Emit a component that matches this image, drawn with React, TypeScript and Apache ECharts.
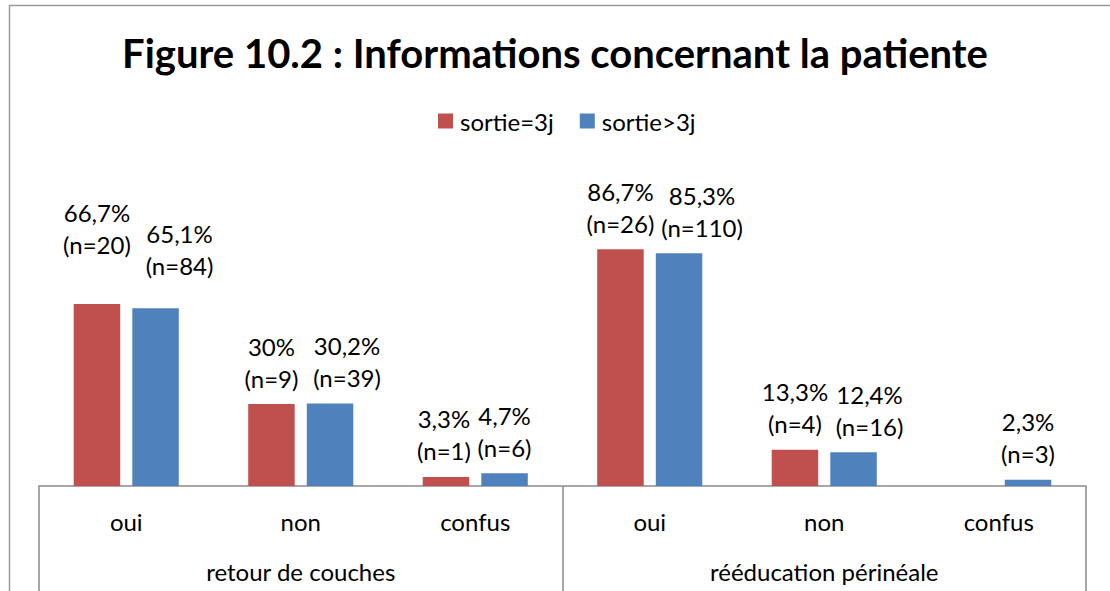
import React, { useEffect, useRef } from "react";
import * as echarts from "echarts";

const groups = ["retour de couches", "rééducation périnéale"];
const answers = ["oui", "non", "confus", "oui", "non", "confus"];
const seriesNames = ["sortie=3j", "sortie>3j"];
const pct3j = [66.7, 30, 3.3, 86.7, 13.3, 0];
const n3j = [20, 9, 1, 26, 4, 0];
const pctMore = [65.1, 30.2, 4.7, 85.3, 12.4, 2.3];
const nMore = [84, 39, 6, 110, 16, 3];

// label nudges (style only): [dx, dy]
const nudge3j = [[0, -33], [0, 0], [-2, 0], [0, 0], [0, 0], [0, 0]];
const nudgeMore = [[24, -17], [17, 0], [0, 0], [23, 0], [16, 0], [0, 0]];

const FONT = "Lato, 'Open Sans', sans-serif";
const RED = "#C0504D";
const BLUE = "#4F81BD";
const GRAY = "#8a8a8a";

function fmt(v: number) {
  return String(v).replace(".", ",") + "%";
}

function buildData(pct: number[], n: number[], nudge: number[][]) {
  return pct.map((v, i) => ({
    value: v,
    label: {
      show: v > 0,
      offset: nudge[i],
      formatter: fmt(v) + "\n(n=" + n[i] + ")",
    },
  }));
}

export default function App() {
  const ref = useRef<HTMLDivElement>(null);
  useEffect(() => {
    if (!ref.current) return;
    const chart = echarts.init(ref.current, undefined, { renderer: "svg" });
    const labelStyle = {
      position: "top",
      distance: 10,
      fontSize: 24,
      lineHeight: 32,
      fontFamily: FONT,
      color: "#000",
    };
    chart.setOption({
      animation: false,
      backgroundColor: "#fff",
      title: {
        text: "Figure 10.2 : Informations concernant la patiente",
        left: "center",
        top: 33,
        padding: [0, 0, 0, 30],
        textStyle: {
          fontSize: 40,
          fontWeight: "bold",
          fontFamily: FONT,
          color: "#000",
        },
      },
      legend: {
        data: seriesNames,
        left: 438,
        top: 108,
        padding: 0,
        itemWidth: 15,
        itemHeight: 15,
        itemGap: 26,
        icon: "rect",
        textStyle: {
          fontSize: 24,
          lineHeight: 26,
          fontFamily: FONT,
          color: "#000",
          padding: [0, 0, 0, 2],
        },
      },
      graphic: [
        {
          type: "rect",
          shape: { x: 9.5, y: 5.5, width: 1300, height: 800 },
          style: { fill: "none", stroke: "#9a9a9a", lineWidth: 1.5 },
          silent: true,
        },
      ],
      grid: { left: 39, right: 24, top: 213, bottom: 105 },
      xAxis: [
        {
          type: "category",
          data: answers,
          position: "bottom",
          axisLine: { show: true, lineStyle: { color: GRAY, width: 1.5 } },
          axisTick: { show: false },
          axisLabel: {
            margin: 22,
            fontSize: 24,
            lineHeight: 26,
            fontFamily: FONT,
            color: "#000",
            interval: 0,
          },
        },
        {
          type: "category",
          data: groups,
          position: "bottom",
          axisLine: { show: false },
          axisTick: {
            show: true,
            length: 105,
            lineStyle: { color: GRAY, width: 1.5 },
          },
          axisLabel: {
            margin: 72,
            fontSize: 24,
            lineHeight: 26,
            fontFamily: FONT,
            color: "#000",
            interval: 0,
          },
        },
      ],
      yAxis: { type: "value", min: 0, max: 100, show: false },
      series: [
        {
          name: seriesNames[0],
          type: "bar",
          xAxisIndex: 0,
          barWidth: 46.5,
          barGap: "26%",
          itemStyle: { color: RED },
          label: labelStyle,
          data: buildData(pct3j, n3j, nudge3j),
        },
        {
          name: seriesNames[1],
          type: "bar",
          xAxisIndex: 0,
          barWidth: 46.5,
          barGap: "26%",
          itemStyle: { color: BLUE },
          label: labelStyle,
          data: buildData(pctMore, nMore, nudgeMore),
        },
      ],
    });
    return () => chart.dispose();
  }, []);
  return (
    <div
      ref={ref}
      style={{ position: "fixed", left: 0, top: 0, width: 1110, height: 591 }}
    />
  );
}
